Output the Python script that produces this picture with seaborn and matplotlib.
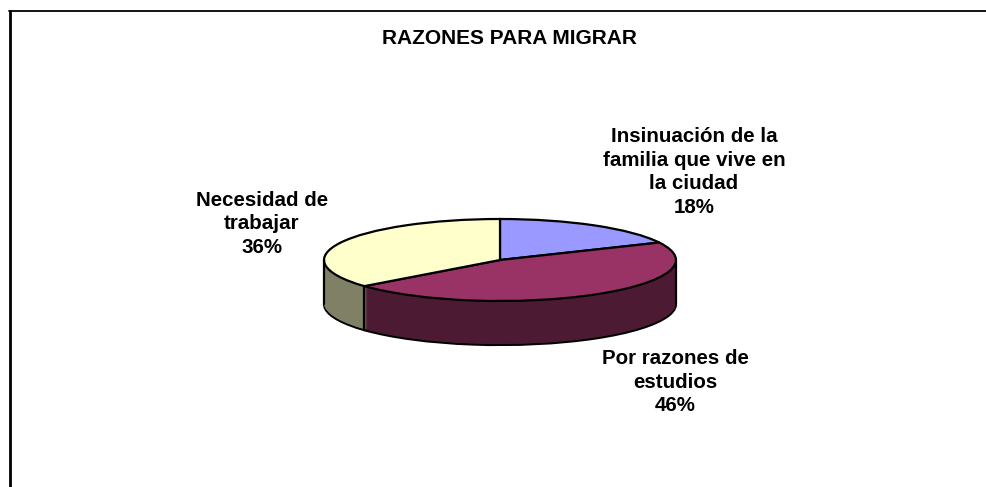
import matplotlib
matplotlib.use("Agg")
import matplotlib.pyplot as plt
import seaborn as sns

W, H = 987, 487

titulo = "RAZONES PARA MIGRAR"
etiquetas = ["Insinuación de la\nfamilia que vive en\nla ciudad\n18%",
             "Por razones de\nestudios\n46%",
             "Necesidad de\ntrabajar\n36%"]
valores = [18, 46, 36]
colores = ["#9999ff", "#993366", "#ffffcc"]
colores_lado = ["#4d4d80", "#4d1a33", "#808066"]

sns.set_theme(style="white")
plt.rcParams["font.family"] = ["Liberation Sans", "DejaVu Sans"]

fig = plt.figure(figsize=(W / 100, H / 100), dpi=100)

# marco de la figura, sin borde abajo ni a la derecha
fig.add_artist(plt.Line2D([10 / W, 10 / W], [0, 1 - 11 / H], color="black", lw=2))
fig.add_artist(plt.Line2D([9 / W, 1], [1 - 11 / H, 1 - 11 / H], color="black", lw=1.3))

# ejes con la elipse de la tapa: x 324-676, y 219-301, grosor 44 px
rx, ry, grosor = 176, 41, 44
cx, cy = 500, 260
ax = fig.add_axes([(cx - rx) / W, 1 - (cy + ry + grosor + 2) / H, 2 * rx / W, (2 * ry + grosor + 4) / H])

# cuerpo: la misma torta repetida hacia abajo
n = 44
for i in range(n, 0, -1):
    ax.pie(valores, colors=colores_lado, startangle=90, counterclock=False,
           center=(0, -i / ry),
           wedgeprops=dict(edgecolor="black" if i == n else "none", linewidth=1.6))
# tapa
ax.pie(valores, colors=colores, startangle=90, counterclock=False,
       wedgeprops=dict(edgecolor="black", linewidth=1.6))

ax.set_aspect("auto")
ax.set_xlim(-1, 1)
ax.set_ylim(-1 - (grosor + 2) / ry, 1 + 2 / ry)

# aristas verticales del cuerpo
ax.plot([-1, -1], [0, -grosor / ry], color="black", lw=1.6, clip_on=False)
ax.plot([1, 1], [0, -grosor / ry], color="black", lw=1.6, clip_on=False)
xb, yb = (364 - cx) / rx, (cy - 286) / ry
ax.plot([xb, xb], [yb, yb - grosor / ry], color="black", lw=1.6)

# textos
fig.text(509 / W, 1 - 39 / H, titulo, ha="center", va="center", fontsize=15,
         fontweight="bold", color="black")
pos_etiquetas = [(694, 172), (675, 382), (262, 224)]
for (px, py), txt in zip(pos_etiquetas, etiquetas):
    fig.text(px / W, 1 - py / H, txt, ha="center", va="center", fontsize=14.8,
             fontweight="bold", color="black", linespacing=1.33)

fig.savefig("out.png", dpi=100, facecolor="white")
